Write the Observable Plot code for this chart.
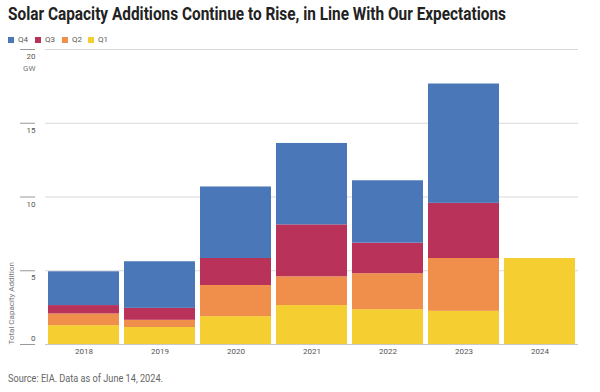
<!DOCTYPE html>
<html>
<head>
<meta charset="utf-8">
<script src="https://cdn.jsdelivr.net/npm/d3@7"></script>
<script src="https://cdn.jsdelivr.net/npm/@observablehq/plot@0.6"></script>
<style>
  html, body { margin: 0; padding: 0; background: #fff; width: 600px; height: 392px; overflow: hidden; }
  #title { height: 28px; line-height: 28px; padding-left: 8px; font-family: Roboto, "DejaVu Sans Condensed", sans-serif; font-weight: bold; font-size: 19px; color: #222; white-space: nowrap; }
  #legend { height: 16px; position: relative; font-family: Roboto, "DejaVu Sans Condensed", sans-serif; font-size: 8px; color: #555; }
  .item { position: absolute; top: 7px; display: flex; align-items: center; }
  .sw { width: 6px; height: 6px; margin-right: 4px; }
  #caption { height: 28px; line-height: 30px; padding-left: 8px; font-family: Roboto, "DejaVu Sans Condensed", sans-serif; font-size: 11px; color: #666; white-space: nowrap; }
  .fit { display: inline-block; transform-origin: 0 50%; }
  svg { display: block; }
</style>
</head>
<body>
<div id="title"><span class="fit" data-w="498">Solar Capacity Additions Continue to Rise, in Line With Our Expectations</span></div>
<div id="legend"></div>
<div id="chart"></div>
<div id="caption"><span class="fit" data-w="155">Source: EIA. Data as of June 14, 2024.</span></div>
<script>
const years = ["2018", "2019", "2020", "2021", "2022", "2023", "2024"];
const quarters = ["Q1", "Q2", "Q3", "Q4"];
const q1 = [1.28, 1.15, 1.89, 2.64, 2.36, 2.25, 5.83];
const q2 = [0.79, 0.49, 2.11, 1.95, 2.44, 3.58, null];
const q3 = [0.57, 0.81, 1.83, 3.52, 2.07, 3.74, null];
const q4 = [2.29, 3.16, 4.85, 5.52, 4.23, 8.09, null];
const legendOrder = ["Q4", "Q3", "Q2", "Q1"];
const colors = ["#4a77b7", "#b8325a", "#f08f4b", "#f5cf31"];
const yTicks = [0, 5, 10, 15, 20];

const series = {Q1: q1, Q2: q2, Q3: q3, Q4: q4};
const data = [];
quarters.forEach(q => years.forEach((y, i) => {
  if (series[q][i] != null) data.push({year: y, quarter: q, value: series[q][i]});
}));

document.querySelectorAll(".fit").forEach(el => {
  const w = el.getBoundingClientRect().width;
  const target = +el.dataset.w;
  el.style.transform = `scaleX(${target / w})`;
});

const legend = document.getElementById("legend");
const lx = [8, 35, 62, 88];
legendOrder.forEach((q, i) => {
  const d = document.createElement("div");
  d.className = "item";
  d.style.left = lx[i] + "px";
  d.innerHTML = `<span class="sw" style="background:${colors[i]}"></span><span>${q}</span>`;
  legend.appendChild(d);
});

const font = "Roboto, 'DejaVu Sans Condensed', sans-serif";
const chart = Plot.plot({
  width: 600,
  height: 320,
  marginLeft: 45,
  marginRight: 22,
  marginTop: 5,
  marginBottom: 20,
  style: {fontFamily: font, fontSize: "8px", color: "#555"},
  x: {domain: years, paddingInner: 0.07, paddingOuter: 0, label: null},
  y: {domain: [0, 20], label: null},
  color: {domain: legendOrder, range: colors},
  marks: [
    Plot.gridY(yTicks.slice(1), {stroke: "#d8d8d8", strokeOpacity: 1}),
    Plot.barY(data, {x: "year", y: "value", fill: "quarter", order: quarters}),
    Plot.ruleY([0], {stroke: "#c8c8c8", strokeWidth: 1.2}),
    Plot.axisY(yTicks, {tickSize: 15, dx: -10, fill: "none", stroke: "#999"}),
    Plot.axisY(yTicks.slice(1), {tickSize: 0, tickPadding: 10, dy: 7, fill: "#555", fontSize: 8}),
    Plot.axisY(yTicks.slice(0, 1), {tickSize: 0, tickPadding: 10, dy: -6, fill: "#555", fontSize: 8}),
    Plot.text(["GW"], {frameAnchor: "top-left", textAnchor: "end", dx: -10, dy: 16, fill: "#777", fontSize: 8}),
    Plot.axisX({tickSize: 0, tickPadding: 4, fill: "#555", fontSize: 8}),
    Plot.text(["Total Capacity Addition"], {frameAnchor: "bottom-left", rotate: -90, textAnchor: "start", dx: -32, fill: "#777", fontSize: 8})
  ]
});
document.getElementById("chart").appendChild(chart);
</script>
</body>
</html>
